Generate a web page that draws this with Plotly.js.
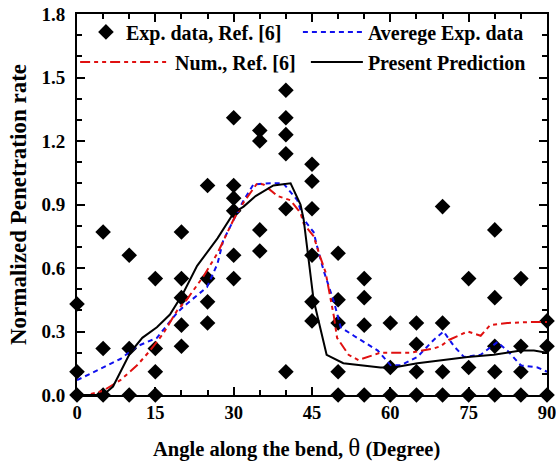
<!DOCTYPE html>
<html>
<head>
<meta charset="utf-8">
<script src="https://cdn.plot.ly/plotly-3.0.1.min.js"></script>
<style>html,body{margin:0;padding:0;background:#fff;}#chart{width:556px;height:462px;}</style>
</head>
<body>
<div id="chart"></div>
<script>
// Experimental data, Ref. [6]
const expX = [0,0,0, 5,5,5, 10,10,10, 15,15,15,15, 20,20,20,20,20, 25,25,25,25,
  30,30,30,30,30,30, 35,35,35,35, 40,40,40,40,40,40, 45,45,45,45,45,45,
  50,50,50,50,50, 55,55,55,55, 60,60,60, 65,65,65,65, 70,70,70,70, 75,75,75,
  80,80,80,80,80, 85,85,85,85, 90,90,90];
const expY = [0.43,0.11,0, 0.77,0.22,0, 0.66,0.22,0, 0.55,0.22,0.11,0, 0.77,0.55,0.46,0.33,0.23, 0.99,0.55,0.44,0.34,
  1.31,0.99,0.93,0.87,0.66,0.55, 1.25,1.20,0.78,0.68, 1.44,1.31,1.23,1.14,0.88,0.11, 1.09,1.01,0.88,0.66,0.44,0.35,
  0.67,0.45,0.34,0.11,0, 0.55,0.46,0.33,0, 0.34,0.13,0, 0.34,0.24,0.11,0, 0.89,0.34,0.11,0, 0.55,0.13,0,
  0.78,0.46,0.23,0.11,0, 0.55,0.23,0.11,0, 0.35,0.23,0];

// Average experimental data
const avgX = [0,5,8.3,11.5,15.3,19.2,21,24.9,26.9,28,30,31.9,33.8,37,39.5,42.2,43.4,45.3,46,47.2,49.2,50.5,53,57.6,60.1,62,65.2,68.3,70.2,72.2,74.1,77.3,80.5,82.4,85,88.2,90];
const avgY = [0.07,0.13,0.17,0.23,0.27,0.39,0.43,0.51,0.62,0.73,0.83,0.92,0.995,1.0,1.0,0.92,0.83,0.77,0.70,0.59,0.44,0.32,0.28,0.21,0.14,0.14,0.18,0.26,0.30,0.23,0.18,0.19,0.25,0.21,0.14,0.13,0.11];

// Numerical, Ref. [6]
const numX = [0,1.9,5,8.3,11.5,14,16.5,19.2,21,24.2,26.9,30,31.9,34.5,35.7,38.4,40.9,42.8,43.4,45.3,46.6,47.6,49.2,49.8,52,53.9,58.1,62,63.9,68.3,69.6,71.2,74.8,77.3,79.1,82.4,86.8,90];
const numY = [0,0,0.02,0.07,0.14,0.21,0.29,0.40,0.45,0.56,0.67,0.83,0.91,1.0,0.995,0.94,0.92,0.86,0.81,0.75,0.65,0.58,0.37,0.27,0.19,0.165,0.2,0.2,0.20,0.22,0.23,0.26,0.30,0.28,0.33,0.34,0.345,0.345];

// Present prediction
const preX = [0,5,6.9,10.2,12.5,15.3,17.8,20.3,23,26.9,30,31.9,34.2,37.6,40.9,42.8,43.4,44.7,45.3,47.8,51,58.1,60.6,65.2,74.8,79.8,85,87.5,90];
const preY = [0,0,0.04,0.2,0.27,0.32,0.38,0.48,0.61,0.74,0.86,0.89,0.94,0.99,1.0,0.90,0.83,0.58,0.45,0.19,0.15,0.13,0.13,0.15,0.18,0.19,0.21,0.21,0.20];

const xTicks = [0,15,30,45,60,75,90];
const yTicks = [0,0.3,0.6,0.9,1.2,1.5,1.8];

const FONT = 'Liberation Serif, Times New Roman, serif';
const legFont = {family: FONT, size: 20, color: '#000', weight: 'bold'};

const traces = [
  {x: expX, y: expY, mode: 'markers', type: 'scatter', name: 'Exp. data, Ref. [6]',
   marker: {symbol: 'diamond', size: 12, color: '#000'}, cliponaxis: false, legend: 'legend'},
  {x: avgX, y: avgY, mode: 'lines', type: 'scatter', name: 'Averege Exp. data',
   line: {color: '#1010ee', width: 2, dash: '5px,4px'}, legend: 'legend2'},
  {x: numX, y: numY, mode: 'lines', type: 'scatter', name: 'Num., Ref. [6]',
   line: {color: '#e01010', width: 2, dash: '10px,4px,4px,4px,4px,4px'}, legend: 'legend3'},
  {x: preX, y: preY, mode: 'lines', type: 'scatter', name: 'Present Prediction',
   line: {color: '#000', width: 2}, legend: 'legend4'}
];

const axisCommon = {
  showline: true, linecolor: '#000', linewidth: 2, mirror: 'allticks',
  ticks: 'inside', tickcolor: '#000', tickwidth: 2, ticklen: 8,
  showgrid: false, zeroline: false, ticklabeloverflow: 'allow'
};

function leg(x, y, w) {
  return {orientation: 'h', x: x, y: y, xanchor: 'left', yanchor: 'middle',
          bgcolor: 'rgba(0,0,0,0)', itemwidth: w, font: legFont};
}

const layout = {
  width: 556, height: 462,
  margin: {l: 77, r: 9, t: 14, b: 67},
  paper_bgcolor: '#fff', plot_bgcolor: '#fff',
  font: {family: FONT, color: '#000'},
  xaxis: Object.assign({}, axisCommon, {
    range: [0, 90], tickvals: xTicks, ticktext: xTicks.map(String),
    tickfont: {family: FONT, size: 18.5, color: '#000', weight: 'bold'},
    minor: {dtick: 5, tick0: 0, ticks: 'inside', ticklen: 5, tickwidth: 2, tickcolor: '#000'}
  }),
  yaxis: Object.assign({}, axisCommon, {
    range: [0, 1.8], tickvals: yTicks, ticktext: yTicks.map(v => v.toFixed(1)),
    tickfont: {family: FONT, size: 19, color: '#000', weight: 'bold'},
    minor: {dtick: 0.1, tick0: 0, ticks: 'inside', ticklen: 5, tickwidth: 2, tickcolor: '#000'},
    ticklabelstandoff: 6,
    title: {text: 'Normalized Penetration rate',
            font: {family: FONT, size: 23, color: '#000', weight: 'bold'}, standoff: 8}
  }),
  annotations: [{
    xref: 'paper', yref: 'paper', x: 0.466, y: -0.1365, xanchor: 'center', yanchor: 'middle',
    showarrow: false,
    text: 'Angle along the bend, <span style="font-weight:normal;font-size:25px">θ</span> (Degree)',
    font: {family: FONT, size: 20.5, color: '#000', weight: 'bold'}
  }],
  showlegend: true,
  legend: leg(0.019, 0.953, 30),
  legend2: leg(0.470, 0.953, 60),
  legend3: leg(-0.004, 0.874, 90),
  legend4: leg(0.487, 0.874, 52)
};

Plotly.newPlot('chart', traces, layout, {displayModeBar: false, staticPlot: true});
</script>
</body>
</html>
